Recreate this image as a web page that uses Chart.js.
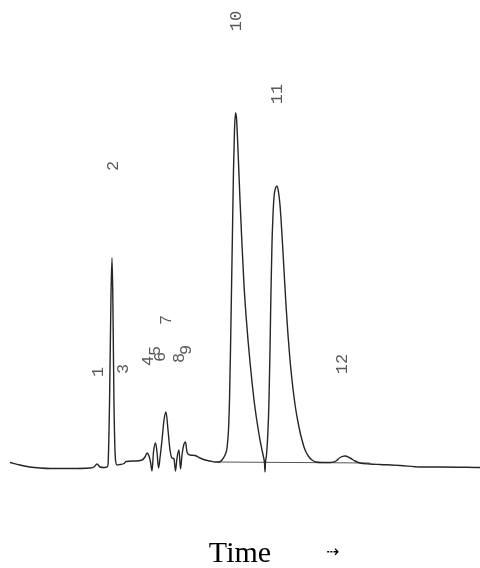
<!DOCTYPE html>
<html>
<head>
<meta charset="utf-8">
<title>Chromatogram</title>
<script src="https://cdn.jsdelivr.net/npm/chart.js@4.4.1/dist/chart.umd.min.js"></script>
<style>
  html, body { margin: 0; padding: 0; background: #ffffff; }
  #wrap { width: 480px; height: 568px; }
</style>
</head>
<body>
<div id="wrap"><canvas id="chrom" width="480" height="568"></canvas></div>
<script>
// Detector trace: retention time (min) and detector signal (arbitrary units)
const retentionTime = [
  1.0, 2.0, 3.0, 4.0, 5.0, 7.0, 9.0, 9.4, 9.7, 10.0, 10.4, 10.7,
  10.8, 10.95, 11.1, 11.2, 11.28, 11.4, 11.55, 11.7,
  12.0, 12.4, 12.6, 13.5, 14.2, 14.5, 14.7, 14.9, 15.05, 15.2, 15.35, 15.55,
  15.7, 15.85, 16.0, 16.2, 16.4, 16.6, 16.8, 17.0, 17.2, 17.4, 17.55, 17.7,
  17.9, 18.05, 18.2, 18.4, 18.55, 18.7, 19.0, 19.5, 20.0, 20.5, 21.0, 21.5,
  21.9, 22.2, 22.5, 22.7, 22.85, 22.95, 23.05, 23.15, 23.25, 23.35, 23.45,
  23.55, 23.65, 23.8, 24.0, 24.2, 24.4, 24.6, 24.8, 25.0, 25.2, 25.4, 25.6,
  25.8, 26.0, 26.2, 26.35, 26.45, 26.5, 26.55, 26.65, 26.8, 26.9, 27.0,
  27.1, 27.2, 27.3, 27.4, 27.55, 27.7, 27.85, 28.0, 28.2, 28.4, 28.6, 28.8, 29.0,
  29.2, 29.4, 29.6, 29.8, 30.0, 30.2, 30.4, 30.6, 30.9, 31.2, 31.6, 32.2,
  33.0, 33.6, 34.0, 34.5, 35.0, 35.5, 36.0, 37.0, 38.0, 40.0, 42.0, 44.0, 48.0
];
const detectorSignal = [
  2.5, 0, -2, -3, -3.5, -3.5, -3, -2, 1, -2, -2.5, -2,
  0, 60, 170, 207, 170, 60, 5, 0,
  0.5, 1.5, 3.5, 4, 5, 8, 12, 9, 3, -6, 13, 22,
  13, -3, 7, 25, 45, 53, 35, 15, 7, 6, -6, 7,
  15, -4, 10, 21, 23, 13, 10, 9.5, 7, 5, 4, 3,
  3, 5, 10, 17, 35, 65, 115, 175, 235, 295, 335,
  352, 347, 315, 265, 220, 180, 150, 125, 103, 83, 65, 50,
  37, 25, 15, 8, 2, -7, 3, 10, 35, 65, 115,
  175, 222, 250, 268, 277, 279, 273, 260, 230, 195, 160, 130, 105,
  85, 68, 54, 43, 33, 25, 18, 13, 8, 5, 3, 2.5,
  2.5, 4, 7.5, 9, 7, 4, 2, 1, 0.5, -0.5, -2, -2, -2.5
];

// Integrator baseline drawn under peaks 10-12
const baselineTime = [21.7, 37.0];
const baselineSignal = [3, 2];

// Peak numbering: label time and apex signal of each numbered peak
const peakNumbers = ['1', '2', '3', '4', '5', '6', '7', '8', '9', '10', '11', '12'];
const peakTimes   = [9.8, 11.3, 12.3, 14.8, 15.5, 16.0, 16.6, 17.9, 18.6, 23.6, 27.7, 34.2];
const peakApex    = [1, 207, 4, 12, 22, 16, 53, 15, 23, 352, 279, 9];

const toPoints = (xs, ys) => xs.map((x, i) => ({ x: x, y: ys[i] }));

// Peak numbers printed vertically above each apex
const peakLabelPlugin = {
  id: 'peakLabels',
  afterDatasetsDraw(chart, args, opts) {
    const { ctx, scales: { x, y } } = chart;
    ctx.save();
    ctx.font = opts.font;
    ctx.fillStyle = opts.color;
    ctx.textAlign = 'center';
    ctx.textBaseline = 'middle';
    peakNumbers.forEach((label, i) => {
      const px = x.getPixelForValue(peakTimes[i]);
      const py = y.getPixelForValue(peakApex[i] + opts.offset);
      ctx.save();
      ctx.translate(px, py);
      ctx.rotate(-Math.PI / 2);
      ctx.fillText(label, 0, 0);
      ctx.restore();
    });
    ctx.restore();
  }
};

// Small direction arrow to the right of the time axis title
const timeArrowPlugin = {
  id: 'timeArrow',
  afterDraw(chart, args, opts) {
    const { ctx } = chart;
    ctx.save();
    ctx.font = opts.font;
    ctx.fillStyle = opts.color;
    ctx.textAlign = 'center';
    ctx.textBaseline = 'middle';
    ctx.fillText(opts.text, opts.x, opts.y);
    ctx.restore();
  }
};

new Chart(document.getElementById('chrom'), {
  type: 'line',
  data: {
    datasets: [
      {
        label: 'Signal',
        data: toPoints(retentionTime, detectorSignal),
        borderColor: '#262626',
        borderWidth: 1.4,
        pointRadius: 0,
        cubicInterpolationMode: 'monotone',
        fill: false
      },
      {
        label: 'Baseline',
        data: toPoints(baselineTime, baselineSignal),
        borderColor: '#555555',
        borderWidth: 1,
        pointRadius: 0,
        fill: false
      }
    ]
  },
  options: {
    responsive: false,
    animation: false,
    devicePixelRatio: 1,
    layout: { padding: 0 },
    plugins: {
      legend: { display: false },
      tooltip: { enabled: false },
      peakLabels: { font: '17px "Liberation Mono", monospace', color: '#5a5a5a', offset: 92 },
      timeArrow: { text: '⇢', font: '16px "DejaVu Sans"', color: '#000000', x: 333, y: 553 }
    },
    scales: {
      x: {
        type: 'linear',
        min: 0,
        max: 48,
        grid: { display: false, drawTicks: false },
        border: { display: false },
        ticks: { display: false },
        title: {
          display: true,
          text: 'Time',
          color: '#000000',
          font: { family: '"Liberation Serif", "Times New Roman", serif', size: 30, weight: 'normal' },
          padding: { top: 4, bottom: -4 }
        }
      },
      y: {
        display: false,
        min: -67,
        max: 465
      }
    }
  },
  plugins: [peakLabelPlugin, timeArrowPlugin]
});
</script>
</body>
</html>
